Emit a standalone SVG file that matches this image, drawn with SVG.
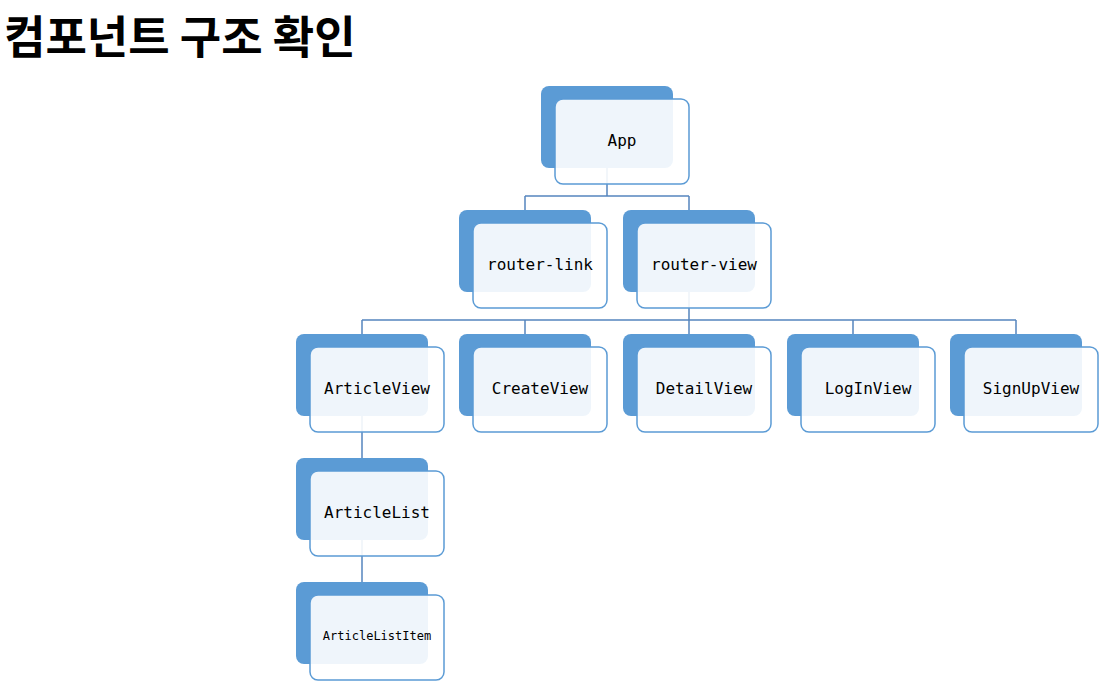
<svg xmlns="http://www.w3.org/2000/svg" width="1114" height="698" viewBox="0 0 1114 698">
<style>
.back{fill:#5B9BD5;}
.front{fill:#FFFFFF;fill-opacity:0.9;stroke:#5B9BD5;stroke-width:1.5;}
.lbl{font-family:"DejaVu Sans Mono","Liberation Mono",monospace;font-size:16px;fill:#000;text-anchor:middle;}
.conn{fill:none;stroke:#5585BE;stroke-width:1.5;}
.title{font-family:"Noto Sans CJK KR","Noto Sans",sans-serif;font-weight:bold;font-size:45px;fill:#000;}
</style>
<rect width="1114" height="698" fill="#FFFFFF"/>
<text class="title" x="4" y="54">컴포넌트 구조 확인</text>
<g id="connectors">
<path class="conn" d="M607 168V196M525 196H689M525 196V210M689 196V210"/>
<path class="conn" d="M689 292V320M362 320H1016M362 320V334M525 320V334M689 320V334M853 320V334M1016 320V334"/>
<path class="conn" d="M362 416V458M362 540V582"/>
</g>
<g id="node-app"><rect class="back" x="541" y="86" width="132" height="82" rx="8"/><rect class="front" x="555" y="99" width="134" height="85" rx="8"/><text class="lbl" x="622" y="146">App</text></g>
<g id="node-router-link"><rect class="back" x="459" y="210" width="132" height="82" rx="8"/><rect class="front" x="473" y="223" width="134" height="85" rx="8"/><text class="lbl" x="540" y="270">router-link</text></g>
<g id="node-router-view"><rect class="back" x="623" y="210" width="132" height="82" rx="8"/><rect class="front" x="637" y="223" width="134" height="85" rx="8"/><text class="lbl" x="704" y="270">router-view</text></g>
<g id="node-articleview"><rect class="back" x="296" y="334" width="132" height="82" rx="8"/><rect class="front" x="310" y="347" width="134" height="85" rx="8"/><text class="lbl" x="377" y="394">ArticleView</text></g>
<g id="node-createview"><rect class="back" x="459" y="334" width="132" height="82" rx="8"/><rect class="front" x="473" y="347" width="134" height="85" rx="8"/><text class="lbl" x="540" y="394">CreateView</text></g>
<g id="node-detailview"><rect class="back" x="623" y="334" width="132" height="82" rx="8"/><rect class="front" x="637" y="347" width="134" height="85" rx="8"/><text class="lbl" x="704" y="394">DetailView</text></g>
<g id="node-loginview"><rect class="back" x="787" y="334" width="132" height="82" rx="8"/><rect class="front" x="801" y="347" width="134" height="85" rx="8"/><text class="lbl" x="868" y="394">LogInView</text></g>
<g id="node-signupview"><rect class="back" x="950" y="334" width="132" height="82" rx="8"/><rect class="front" x="964" y="347" width="134" height="85" rx="8"/><text class="lbl" x="1031" y="394">SignUpView</text></g>
<g id="node-articlelist"><rect class="back" x="296" y="458" width="132" height="82" rx="8"/><rect class="front" x="310" y="471" width="134" height="85" rx="8"/><text class="lbl" x="377" y="518">ArticleList</text></g>
<g id="node-articlelistitem"><rect class="back" x="296" y="582" width="132" height="82" rx="8"/><rect class="front" x="310" y="595" width="134" height="85" rx="8"/><text class="lbl" x="377" y="640" style="font-size:12px">ArticleListItem</text></g>
</svg>
